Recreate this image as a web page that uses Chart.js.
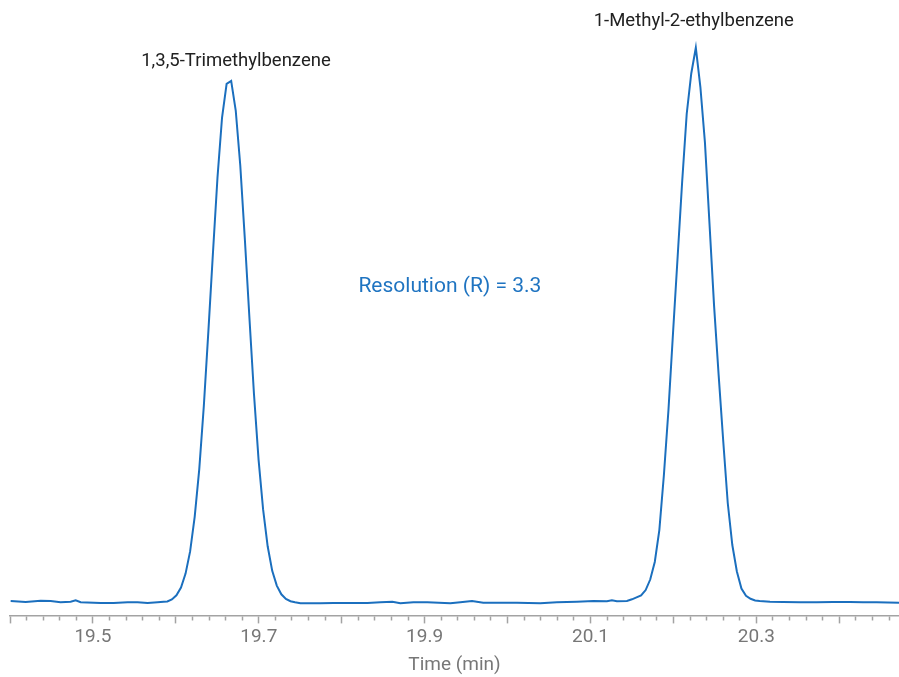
<!DOCTYPE html>
<html>
<head>
<meta charset="utf-8">
<script src="https://cdn.jsdelivr.net/npm/chart.js@4.4.1/dist/chart.umd.min.js"></script>
<style>
  html, body { margin: 0; padding: 0; background: #ffffff; }
  #wrap { width: 899px; height: 677px; }
</style>
</head>
<body>
<div id="wrap"><canvas id="c" width="899" height="677"></canvas></div>
<script>
// Retention time (min)
const times = [
  19.4008, 19.4189, 19.4370, 19.4490, 19.4610, 19.4731, 19.4792, 19.4852, 19.5093, 19.5249,
  19.5418, 19.5539, 19.5659, 19.5780, 19.5852,
  19.5897, 19.5952, 19.6007, 19.6062, 19.6117, 19.6172, 19.6227, 19.6282, 19.6337, 19.6392,
  19.6447, 19.6502, 19.6557, 19.6612, 19.6667, 19.6722, 19.6777, 19.6832, 19.6887, 19.6942,
  19.6997, 19.7052, 19.7107, 19.7162, 19.7217, 19.7272, 19.7327, 19.7382, 19.7437,
  19.7502, 19.7743, 19.7900, 19.8105, 19.8310, 19.8466, 19.8611, 19.8707, 19.8864, 19.9033,
  19.9310, 19.9430, 19.9571, 19.9707, 19.9912, 20.0113, 20.0394, 20.0595, 20.0836, 20.1036,
  20.1198, 20.1258, 20.1318, 20.1439,
  20.1500, 20.1555, 20.1610, 20.1665, 20.1720, 20.1775, 20.1830, 20.1885, 20.1940, 20.1995,
  20.2050, 20.2105, 20.2160, 20.2215, 20.2270, 20.2325, 20.2380, 20.2435, 20.2490, 20.2545,
  20.2600, 20.2655, 20.2710, 20.2765, 20.2820, 20.2875, 20.2930, 20.2985, 20.3040,
  20.3165, 20.3322, 20.3527, 20.3728, 20.3924, 20.4129, 20.4286, 20.4451, 20.4720
];

// Detector signal (relative units)
const signal = [
  0.36, 0.18, 0.41, 0.36, 0.13, 0.23, 0.49, 0.13, 0.00, 0.00,
  0.13, 0.13, 0.00, 0.13, 0.23,
  0.29, 0.65, 1.39, 2.79, 5.30, 9.30, 15.53, 24.09, 35.46, 48.94,
  63.03, 76.67, 87.48, 93.55, 94.09, 88.74, 78.79, 65.55, 51.39, 37.66,
  25.89, 16.86, 10.22, 5.80, 3.14, 1.57, 0.74, 0.32, 0.13,
  -0.05, -0.05, 0.00, 0.00, 0.00, 0.13, 0.23, -0.05, 0.13, 0.13,
  -0.05, 0.13, 0.36, 0.05, 0.05, 0.05, -0.05, 0.13, 0.23, 0.36,
  0.31, 0.49, 0.31, 0.36,
  0.67, 1.01, 1.37, 2.34, 4.23, 7.39, 13.15, 23.06, 34.77, 48.65,
  62.22, 75.86, 88.11, 95.41, 100.05, 92.97, 82.95, 68.29, 53.59, 41.10,
  29.28, 18.02, 10.45, 5.68, 2.61, 1.30, 0.76, 0.47, 0.36,
  0.23, 0.18, 0.13, 0.13, 0.18, 0.18, 0.13, 0.13, 0.05
];

// Labelled x ticks
const labeledTicks = [19.5, 19.7, 19.9, 20.1, 20.3];

// Annotation texts
const peakNames = ['1,3,5-Trimethylbenzene', '1-Methyl-2-ethylbenzene'];
const resolutionText = 'Resolution (R) = 3.3';

// Annotation anchors (data coordinates) and styles
const annotations = [
  { text: peakNames[0], t: 19.6725, v: 96.8, font: '18.5px Roboto', color: '#212121' },
  { text: peakNames[1], t: 20.2245, v: 103.9, font: '18.5px Roboto', color: '#212121' },
  { text: resolutionText, t: 19.9304, v: 56.1, font: '21px Roboto', color: '#1f74c1' }
];

const annotationPlugin = {
  id: 'annotations',
  afterDatasetsDraw(chart) {
    const { ctx, scales } = chart;
    ctx.save();
    ctx.textAlign = 'center';
    ctx.textBaseline = 'alphabetic';
    annotations.forEach(a => {
      ctx.font = a.font;
      ctx.fillStyle = a.color;
      ctx.fillText(a.text, scales.x.getPixelForValue(a.t), scales.y.getPixelForValue(a.v));
    });
    ctx.restore();
  }
};

const isMajor = v => Math.abs(v * 10 - Math.round(v * 10)) < 1e-6;
const isLabeled = v => labeledTicks.some(l => Math.abs(l - v) < 1e-6);

new Chart(document.getElementById('c'), {
  type: 'line',
  data: {
    datasets: [{
      data: times.map((t, i) => ({ x: t, y: signal[i] })),
      borderColor: '#1b6fbe',
      borderWidth: 2,
      pointRadius: 0,
      tension: 0,
      fill: false
    }]
  },
  options: {
    responsive: false,
    animation: false,
    devicePixelRatio: 1,
    layout: { padding: { left: 10, right: 0, top: 10, bottom: 0 } },
    plugins: { legend: { display: false }, tooltip: { enabled: false } },
    scales: {
      x: {
        type: 'linear',
        min: 19.4,
        max: 20.472,
        border: { display: true, color: '#a3a3a3', width: 1.5 },
        grid: {
          display: true,
          drawOnChartArea: false,
          drawTicks: true,
          tickLength: 8,
          tickColor: '#a3a3a3',
          tickWidth: 1.5,
          tickBorderDash: ctx => (ctx.tick && isMajor(ctx.tick.value)) ? [] : [4, 30]
        },
        ticks: {
          stepSize: 0.02,
          includeBounds: false,
          autoSkip: false,
          maxRotation: 0,
          padding: 2,
          color: '#777777',
          font: { family: 'Roboto', size: 19 },
          callback: v => isLabeled(v) ? v.toFixed(1) : ''
        },
        title: {
          display: true,
          text: 'Time (min)',
          color: '#777777',
          font: { family: 'Roboto', size: 19 },
          padding: { top: 4, bottom: 0 }
        }
      },
      y: {
        display: false,
        min: -2.23,
        max: 106.85
      }
    }
  },
  plugins: [annotationPlugin]
});
</script>
</body>
</html>
